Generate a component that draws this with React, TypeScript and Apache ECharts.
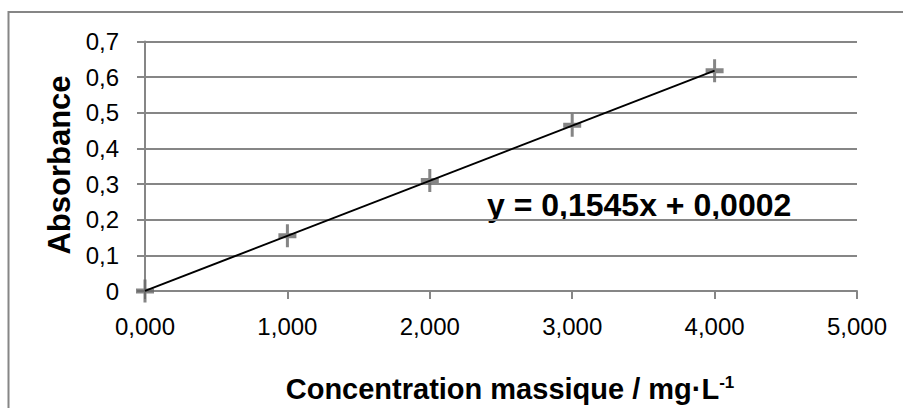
import React, { useEffect, useRef } from "react";
import * as echarts from "echarts";

// Data
const concentrations = [0, 1, 2, 3, 4];
const absorbances = [0, 0.155, 0.31, 0.465, 0.618];
const trendX = [0, 4];
const trendY = [0.0002, 0.6182];
const xTickLabels = ["0,000", "1,000", "2,000", "3,000", "4,000", "5,000"];
const yTickLabels = ["0", "0,1", "0,2", "0,3", "0,4", "0,5", "0,6", "0,7"];
const equationText = "y = 0,1545x + 0,0002";
const xTitle = "Concentration massique / mg·L";
const xTitleSup = "-1";
const yTitle = "Absorbance";

const GREY = "#868686";
const plusSymbol =
  "path://M7.5,0 L10.5,0 L10.5,9 L18,9 L18,14 L10.5,14 L10.5,23 L7.5,23 L7.5,14 L0,14 L0,9 L7.5,9 Z";

export default function App() {
  const ref = useRef<HTMLDivElement>(null);
  useEffect(() => {
    if (!ref.current) return;
    const chart = echarts.init(ref.current, undefined, { renderer: "svg" });
    chart.setOption({
      animation: false,
      backgroundColor: "#ffffff",
      grid: { left: 145, right: 46, top: 41.5, bottom: 117, containLabel: false },
      xAxis: {
        type: "value",
        min: 0,
        max: 5,
        interval: 1,
        axisLine: { show: true, lineStyle: { color: GREY, width: 2 } },
        axisTick: { show: true, length: 8, inside: false, lineStyle: { color: GREY, width: 2 } },
        splitLine: { show: false },
        axisLabel: {
          margin: 23,
          color: "#000",
          fontFamily: "Liberation Sans",
          fontSize: 24,
          formatter: (v: number) => xTickLabels[Math.round(v)] ?? "",
        },
      },
      yAxis: {
        type: "value",
        min: 0,
        max: 0.7,
        interval: 0.1,
        axisLine: { show: true, lineStyle: { color: GREY, width: 2 } },
        axisTick: { show: true, length: 8, inside: false, lineStyle: { color: GREY, width: 2 } },
        splitLine: { show: true, lineStyle: { color: GREY, width: 2 } },
        axisLabel: {
          margin: 26,
          color: "#000",
          fontFamily: "Liberation Sans",
          fontSize: 24,
          formatter: (v: number) => yTickLabels[Math.round(v * 10)] ?? "",
        },
      },
      series: [
        {
          type: "line",
          data: trendX.map((x, i) => [x, trendY[i]]),
          symbol: "none",
          lineStyle: { color: "#000", width: 2 },
          z: 3,
        },
        {
          type: "scatter",
          data: concentrations.map((x, i) => [x, absorbances[i]]),
          symbol: plusSymbol,
          symbolSize: [18, 23],
          itemStyle: { color: "#666666" },
          z: 2,
        },
      ],
      graphic: [
        {
          type: "rect",
          shape: { x: 8.5, y: 12, width: 960, height: 460 },
          style: { fill: "none", stroke: GREY, lineWidth: 2 },
          silent: true,
          z: -1,
        },
        {
          type: "text",
          x: 59,
          y: 165,
          rotation: Math.PI / 2,
          style: {
            text: yTitle,
            fontFamily: "Liberation Sans",
            fontWeight: "bold",
            fontSize: 31,
            fill: "#000",
            align: "center",
            verticalAlign: "middle",
          },
        },
        {
          type: "text",
          x: 510,
          y: 389,
          style: {
            text: "{a|" + xTitle + "}{s|" + xTitleSup + "}",
            align: "center",
            verticalAlign: "middle",
            rich: {
              a: {
                fontFamily: "Liberation Sans",
                fontWeight: "bold",
                fontSize: 29,
                color: "#000",
              },
              s: {
                fontFamily: "Liberation Sans",
                fontWeight: "bold",
                fontSize: 17,
                color: "#000",
                verticalAlign: "top",
                padding: [0, 0, 14, 0],
              },
            },
          },
        },
        {
          type: "text",
          x: 487,
          y: 205,
          style: {
            text: equationText,
            fontFamily: "Liberation Sans",
            fontWeight: "bold",
            fontSize: 32,
            fill: "#000",
            align: "left",
            verticalAlign: "middle",
          },
        },
      ],
    });
    return () => chart.dispose();
  }, []);
  return (
    <div
      ref={ref}
      style={{ position: "fixed", left: 0, top: 0, width: 903, height: 408 }}
    />
  );
}
